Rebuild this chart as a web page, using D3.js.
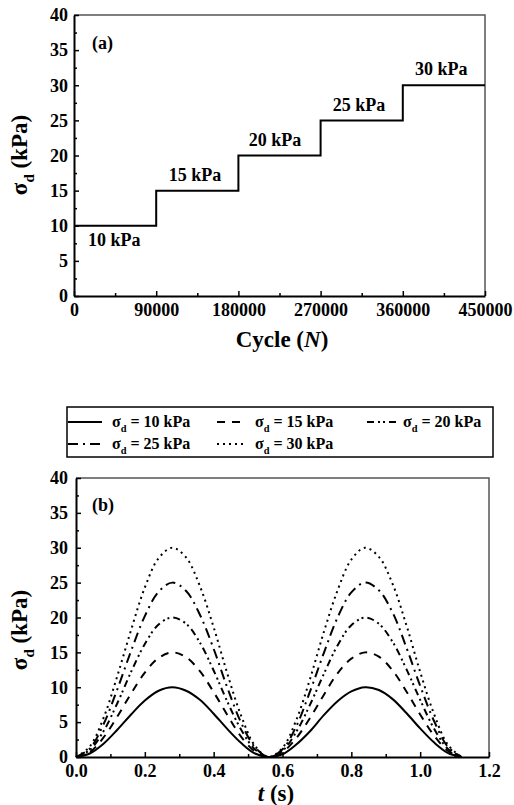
<!DOCTYPE html>
<html>
<head>
<meta charset="utf-8">
<script src="https://cdn.jsdelivr.net/npm/d3@7"></script>
<style>
    body { margin: 0; background: #fff; }
    text { font-family: "Liberation Serif", "Times New Roman", "DejaVu Serif", serif; font-weight: bold; fill: #000; }
</style>
</head>
<body>
<div id="chart"></div>
<script>
// ---- panel (a) : loading steps ----
const cycleTicks = [0, 90000, 180000, 270000, 360000, 450000];
const stepStart = [0, 90000, 180000, 270000, 360000];
const stepEnd = [90000, 180000, 270000, 360000, 450000];
const stepLevel = [10, 15, 20, 25, 30];
const stepLabels = ["10 kPa", "15 kPa", "20 kPa", "25 kPa", "30 kPa"];
const stepLabelX = [44000, 132500, 220000, 312000, 402000];
const stepLabelY = [8.0, 17.2, 22.2, 27.3, 32.3];

// ---- panel (b) : haversine pulses ----
const timeS = [0, 0.04, 0.08, 0.12, 0.16, 0.20, 0.24, 0.28, 0.32, 0.36, 0.40, 0.44, 0.48, 0.52, 0.56,
    0.60, 0.64, 0.68, 0.72, 0.76, 0.80, 0.84, 0.88, 0.92, 0.96, 1.00, 1.04, 1.08, 1.12];
const sd10 = [0, 0.5, 1.9, 3.9, 6.1, 8.1, 9.5, 10, 9.5, 8.2, 6.2, 4.0, 2.0, 0.5, 0,
    0.4, 1.8, 3.7, 6.0, 8.0, 9.4, 10, 9.6, 8.3, 6.3, 4.1, 2.1, 0.6, 0];
const sd15 = [0, 0.7, 2.8, 5.8, 9.1, 12.1, 14.2, 15, 14.3, 12.3, 9.3, 6.0, 2.9, 0.8, 0,
    0.7, 2.7, 5.6, 8.9, 12.0, 14.1, 15, 14.4, 12.4, 9.4, 6.1, 3.1, 0.9, 0];
const sd20 = [0, 1.0, 3.7, 7.7, 12.2, 16.2, 19.0, 20, 19.1, 16.4, 12.4, 7.9, 3.9, 1.1, 0,
    0.9, 3.6, 7.5, 11.9, 16.0, 18.9, 20, 19.1, 16.5, 12.6, 8.2, 4.1, 1.2, 0];
const sd25 = [0, 1.2, 4.7, 9.7, 15.2, 20.2, 23.7, 25, 23.8, 20.4, 15.5, 9.9, 4.9, 1.4, 0,
    1.1, 4.4, 9.4, 14.9, 20.0, 23.6, 25, 23.9, 20.7, 15.7, 10.2, 5.2, 1.5, 0];
const sd30 = [0, 1.5, 5.6, 11.6, 18.2, 24.3, 28.5, 30, 28.6, 24.5, 18.6, 11.9, 5.9, 1.6, 0,
    1.3, 5.3, 11.2, 17.9, 23.9, 28.3, 30, 28.7, 24.8, 18.9, 12.2, 6.2, 1.8, 0];
const seriesLevels = [10, 15, 20, 25, 30];
const seriesValues = [sd10, sd15, sd20, sd25, sd30];
const timeTicks = [0, 0.2, 0.4, 0.6, 0.8, 1.0, 1.2];
const stressTicks = [0, 5, 10, 15, 20, 25, 30, 35, 40];

const W = 514, H = 805;
const dashStyle = ["none", "8,7", "7,4,2,3,2,4", "10,5,2,5", "2,4"];
const serif = '"Liberation Serif", "Times New Roman", "DejaVu Serif", serif';

const svg = d3.select("#chart")
    .append("svg")
    .attr("width", W)
    .attr("height", H);

// subscript sigma text helper
function sigmaD(sel, size, rest) {
    const shift = size * 0.3;
    sel.append("tspan").text("σ");
    sel.append("tspan").attr("font-size", size * 0.65).attr("dy", shift).text("d");
    sel.append("tspan").attr("dy", -shift).text(rest);
}

function drawAxes(g, x, y, xTicks, xMinor, yMinor, fmt, yPad) {
    const box = {x0: x.range()[0], x1: x.range()[1], y0: y.range()[1], y1: y.range()[0]};

    // thin frame on top and right
    g.append("path")
        .attr("d", `M${box.x0},${box.y0}H${box.x1}V${box.y1}`)
        .attr("fill", "none")
        .attr("stroke", "#555")
        .attr("stroke-width", 1.5);

    const xa = g.append("g")
        .attr("transform", `translate(0, ${box.y1})`)
        .call(d3.axisBottom(x).tickValues(xTicks).tickFormat(fmt)
            .tickSizeInner(-5).tickSizeOuter(0).tickPadding(7));
    g.append("g")
        .attr("transform", `translate(0, ${box.y1})`)
        .call(d3.axisBottom(x).tickValues(xMinor).tickFormat("")
            .tickSizeInner(-3).tickSizeOuter(0))
        .select(".domain").remove();

    const ya = g.append("g")
        .attr("transform", `translate(${box.x0}, 0)`)
        .call(d3.axisLeft(y).tickValues(stressTicks)
            .tickSizeInner(-5).tickSizeOuter(0).tickPadding(yPad));
    g.append("g")
        .attr("transform", `translate(${box.x0}, 0)`)
        .call(d3.axisLeft(y).tickValues(yMinor).tickFormat("")
            .tickSizeInner(-3).tickSizeOuter(0))
        .select(".domain").remove();

    g.selectAll("g").attr("font-family", serif);
    g.selectAll(".tick line").attr("stroke", "#000").attr("stroke-width", 1.5);
    g.selectAll(".domain").attr("stroke", "#000").attr("stroke-width", 2);
    [xa, ya].forEach((a) => a.selectAll(".tick text")
        .style("font-family", serif)
        .style("font-weight", "bold")
        .style("font-size", "18px")
        .attr("fill", "#000"));
}

function yTitle(cx, cy) {
    const t = svg.append("text")
        .attr("transform", "rotate(-90)")
        .attr("x", -cy)
        .attr("y", cx)
        .attr("text-anchor", "middle")
        .style("font-size", "23px");
    sigmaD(t, 23, " (kPa)");
}

// ===================== panel (a) =====================
const xA = d3.scaleLinear().domain([0, 450000]).range([74, 485]);
const yA = d3.scaleLinear().domain([0, 40]).range([296, 15]);
const gA = svg.append("g");

const minorCycle = d3.range(45000, 450000, 90000);
const minorStress = d3.range(2.5, 40, 5);
drawAxes(gA, xA, yA, cycleTicks, minorCycle, minorStress, d3.format("d"), 6);

const stepPts = [];
stepLevel.forEach((v, i) => {
    stepPts.push([stepStart[i], v]);
    stepPts.push([stepEnd[i], v]);
});
gA.append("path")
    .datum(stepPts)
    .attr("fill", "none")
    .attr("stroke", "#000")
    .attr("stroke-width", 2)
    .attr("d", d3.line().x((d) => xA(d[0])).y((d) => yA(d[1])));

gA.selectAll(".steplabel")
    .data(stepLabels)
    .enter()
    .append("text")
    .attr("class", "steplabel")
    .attr("x", (d, i) => xA(stepLabelX[i]))
    .attr("y", (d, i) => yA(stepLabelY[i]))
    .attr("dy", "0.35em")
    .attr("text-anchor", "middle")
    .style("font-size", "18px")
    .text((d) => d);

gA.append("text")
    .attr("x", 92).attr("y", 49)
    .style("font-size", "18px")
    .text("(a)");

yTitle(27, 155);

const cyc = svg.append("text")
    .attr("x", 282).attr("y", 347)
    .attr("text-anchor", "middle")
    .style("font-size", "23px");
cyc.append("tspan").text("Cycle (");
cyc.append("tspan").style("font-style", "italic").text("N");
cyc.append("tspan").text(")");

// ===================== legend =====================
const legendCols = [{x: 68, w: 34, tx: 112}, {x: 217, w: 28, tx: 255}, {x: 367, w: 31, tx: 403}];
const legendRows = [422, 444];
svg.append("rect")
    .attr("x", 67).attr("y", 407)
    .attr("width", 426).attr("height", 50)
    .attr("fill", "none")
    .attr("stroke", "#000")
    .attr("stroke-width", 1.5);

seriesLevels.forEach((lv, i) => {
    const c = legendCols[i % 3], ry = legendRows[Math.floor(i / 3)];
    svg.append("line")
        .attr("x1", c.x).attr("x2", c.x + c.w)
        .attr("y1", ry).attr("y2", ry)
        .attr("stroke", "#000")
        .attr("stroke-width", 2)
        .attr("stroke-dasharray", dashStyle[i]);
    const t = svg.append("text")
        .attr("x", c.tx).attr("y", ry + 5)
        .style("font-size", "16px");
    sigmaD(t, 16, ` = ${lv} kPa`);
});

// ===================== panel (b) =====================
const xB = d3.scaleLinear().domain([0, 1.2]).range([76, 489]);
const yB = d3.scaleLinear().domain([0, 40]).range([757, 478]);
const gB = svg.append("g");

drawAxes(gB, xB, yB, timeTicks, d3.range(0.1, 1.2, 0.2), minorStress, d3.format(".1f"), 8);

const pulse = d3.line()
    .x((d) => xB(d[0]))
    .y((d) => yB(d[1]))
    .curve(d3.curveCatmullRom.alpha(0.5));

seriesValues.forEach((vals, i) => {
    gB.append("path")
        .datum(timeS.map((t, k) => [t, vals[k]]))
        .attr("fill", "none")
        .attr("stroke", "#000")
        .attr("stroke-width", 2)
        .attr("stroke-dasharray", dashStyle[i])
        .attr("d", pulse);
});

gB.append("text")
    .attr("x", 92).attr("y", 511)
    .style("font-size", "18px")
    .text("(b)");

yTitle(27, 630);

const tt = svg.append("text")
    .attr("x", 276).attr("y", 801)
    .attr("text-anchor", "middle")
    .style("font-size", "23px");
tt.append("tspan").style("font-style", "italic").text("t");
tt.append("tspan").text(" (s)");
</script>
</body>
</html>
